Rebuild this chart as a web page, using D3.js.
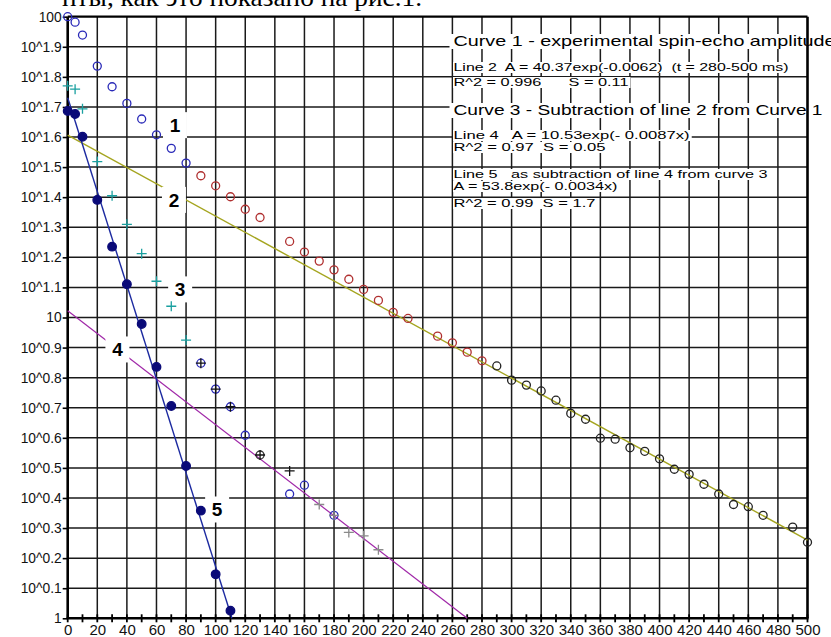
<!DOCTYPE html>
<html>
<head>
<meta charset="utf-8">
<script src="https://cdn.jsdelivr.net/npm/d3@7"></script>
<style>
body { margin: 0; background: #fff; }
svg { display: block; font-family: "Liberation Sans", Arial, sans-serif; }
</style>
</head>
<body>
<script>
// data (amplitude vs time, ms)
var curve1BlueX = [0, 5, 10, 20, 30, 40, 50, 60, 70, 80];
var curve1BlueY = [100, 95.9, 86.9, 68.5, 58.5, 51.5, 45.7, 40.5, 36.5, 32.6];
var curve1RedX = [90, 100, 110, 120, 130, 150, 160, 170, 180, 190, 200, 210, 220, 230, 250, 260, 270, 280];
var curve1RedY = [29.6, 27.4, 25.2, 22.9, 21.5, 17.9, 16.5, 15.4, 14.4, 13.4, 12.4, 11.4, 10.4, 9.93, 8.67, 8.24, 7.67, 7.18];
var curve1BlackX = [290, 300, 310, 320, 330, 340, 350, 360, 370, 380, 390, 400, 410, 420, 430, 440, 450, 460, 470, 490, 500];
var curve1BlackY = [6.90, 6.19, 5.96, 5.70, 5.31, 4.80, 4.59, 3.97, 3.94, 3.69, 3.59, 3.39, 3.13, 3.01, 2.79, 2.59, 2.39, 2.35, 2.20, 2.01, 1.79];

var curve3CyanX = [0, 5, 10, 20, 30, 40, 50, 60, 70, 80];
var curve3CyanY = [58.9, 57.4, 49.4, 33.0, 25.4, 20.4, 16.3, 13.2, 10.9, 8.41];
var curve3BlueX = [90, 100, 110, 120, 150, 160, 180];
var curve3BlueY = [7.05, 5.78, 5.05, 4.06, 2.59, 2.77, 2.20];
var curve3BlackCircleX = [130];
var curve3BlackCircleY = [3.49];
var curve3BlackPlusX = [90, 100, 110, 130, 150];
var curve3BlackPlusY = [7.05, 5.78, 5.05, 3.49, 3.09];
var curve3GrayPlusX = [170, 180, 190, 200, 210];
var curve3GrayPlusY = [2.39, 2.20, 1.93, 1.88, 1.69];

var curve5X = [0, 5, 10, 20, 30, 40, 50, 60, 70, 80, 90, 100, 110];
var curve5Y = [48.6, 47.5, 39.9, 24.6, 17.2, 12.9, 9.51, 6.85, 5.08, 3.21, 2.28, 1.40, 1.06];

// fitted lines (end points)
var line2X = [0, 500];
var line2Y = [40.37, 1.82];
var line4X = [0, 270];
var line4Y = [10.53, 1.0];
var line5X = [0, 111];
var line5Y = [53.8, 1.0];

// curve number labels
var labelText = ['1', '2', '3', '4', '5'];
var labelX = [72.5, 71.8, 76, 33.6, 101];
var labelY = [43.6, 24.6, 12.4, 7.83, 2.30];

// axes
var xTickValues = [0, 20, 40, 60, 80, 100, 120, 140, 160, 180, 200, 220, 240, 260, 280, 300, 320, 340, 360, 380, 400, 420, 440, 460, 480, 500];
var yTickExp = [2, 1.9, 1.8, 1.7, 1.6, 1.5, 1.4, 1.3, 1.2, 1.1, 1, 0.9, 0.8, 0.7, 0.6, 0.5, 0.4, 0.3, 0.2, 0.1, 0];
var yTickLabels = ['100', '10^1.9', '10^1.8', '10^1.7', '10^1.6', '10^1.5', '10^1.4', '10^1.3', '10^1.2', '10^1.1', '10',
	'10^0.9', '10^0.8', '10^0.7', '10^0.6', '10^0.5', '10^0.4', '10^0.3', '10^0.2', '10^0.1', '1'];

var legendLines = [
	'Curve 1 - experimental spin-echo amplitude',
	'Line 2  A = 40.37exp(-0.0062)  (t = 280-500 ms)',
	'R^2 = 0.996      S = 0.11',
	'Curve 3 - Subtraction of line 2 from Curve 1',
	'Line 4   A = 10.53exp(- 0.0087x)',
	'R^2 = 0.97  S = 0.05',
	'Line 5   as subtraction of line 4 from curve 3',
	'A = 53.8exp(- 0.0034x)',
	'R^2 = 0.99  S = 1.7'
];
var captionText = 'нты, как это показано на рис.1.';

function zip (xs, ys) {
	return xs.map(function (v, i) { return [v, ys[i]]; });
}

// chart
var width = 831, height = 637;
var svg = d3.select('body').append('svg')
	.attr('width', width)
	.attr('height', height);

var x = d3.scaleLinear().domain([0, 500]).range([67.7, 807.5]);
var y = d3.scaleLog().domain([1, 100]).range([618.3, 16.7]);
var yTickValues = yTickExp.map(function (e) { return Math.pow(10, e); });

// caption text cut at the top (page text above the figure)
svg.append('text')
	.attr('x', 422)
	.attr('y', 6)
	.attr('text-anchor', 'end')
	.attr('textLength', 360)
	.attr('lengthAdjust', 'spacingAndGlyphs')
	.style('font-family', '"Liberation Serif", "Times New Roman", serif')
	.style('font-size', '26px')
	.text(captionText);

// grid
var grid = svg.append('g').attr('stroke', '#1a1a1a').attr('stroke-width', 1.5);
grid.selectAll('.vg')
	.data(xTickValues.filter(function (d) { return d > 0 && d < 500; }))
	.enter().append('line')
	.attr('x1', function (d) { return x(d); })
	.attr('x2', function (d) { return x(d); })
	.attr('y1', y(100))
	.attr('y2', y(1));
grid.selectAll('.hg')
	.data(yTickValues.filter(function (d, i) { return i > 0 && i < yTickValues.length - 1; }))
	.enter().append('line')
	.attr('x1', x(0))
	.attr('x2', x(500))
	.attr('y1', function (d) { return y(d); })
	.attr('y2', function (d) { return y(d); });

// legend (text on white boxes over the grid)
var legendBase = [46, 71, 86, 115, 139, 151, 178, 190, 207];
var legendBig = [true, false, false, true, false, false, false, false, false];
var legendLen = [382, 335, 175, 369, 236, 152, 314, 164, 142];
var legend = svg.append('g');
legendLines.forEach(function (t, i) {
	var g = legend.append('g');
	var txt = g.append('text')
		.attr('x', 453.5)
		.attr('y', legendBase[i])
		.attr('textLength', legendLen[i])
		.attr('lengthAdjust', 'spacingAndGlyphs')
		.attr('xml:space', 'preserve')
		.style('white-space', 'pre')
		.style('font-size', legendBig[i] ? '14.5px' : '11.5px')
		.style('fill', '#000')
		.text(t);
	var bb = txt.node().getBBox();
	var padL = legendBig[i] ? 4 : 0.5;
	g.insert('rect', 'text')
		.attr('x', 453.5 - padL)
		.attr('y', bb.y + 1)
		.attr('width', bb.width + padL + 2)
		.attr('height', bb.height - 1)
		.attr('fill', '#fff');
});

// frame
svg.append('line')
	.attr('x1', x(0)).attr('x2', x(500))
	.attr('y1', y(100)).attr('y2', y(100))
	.attr('stroke', '#000').attr('stroke-width', 2.2);
svg.append('line')
	.attr('x1', x(500)).attr('x2', x(500))
	.attr('y1', y(100)).attr('y2', y(1))
	.attr('stroke', '#000').attr('stroke-width', 2.6);

// axes
var yAxis = d3.axisLeft(y)
	.tickValues(yTickValues)
	.tickFormat(function (d, i) { return yTickLabels[i]; })
	.tickSize(5)
	.tickPadding(1);
var yg = svg.append('g')
	.attr('transform', 'translate(' + x(0) + ',0)')
	.call(yAxis);
yg.select('.domain').remove();
yg.selectAll('line').attr('stroke', '#000').attr('stroke-width', 1.6);
yg.selectAll('text').style('font-size', '13.8px').style('font-family', '"Liberation Sans", Arial, sans-serif').attr('fill', '#111');

var xAxis = d3.axisBottom(x)
	.tickValues(xTickValues)
	.tickSize(0)
	.tickPadding(6);
var xg = svg.append('g')
	.attr('transform', 'translate(0,' + y(1) + ')')
	.call(xAxis);
xg.select('.domain').remove();
xg.selectAll('text').style('font-size', '15px').style('font-family', '"Liberation Sans", Arial, sans-serif').attr('fill', '#111');

var minorTicks = d3.range(0, 501, 10);
svg.append('g').selectAll('line')
	.data(minorTicks)
	.enter().append('line')
	.attr('x1', function (d) { return x(d); })
	.attr('x2', function (d) { return x(d); })
	.attr('y1', y(1) - 4)
	.attr('y2', y(1) + 4)
	.attr('stroke', '#000')
	.attr('stroke-width', 1.8);

svg.append('line')
	.attr('x1', x(0)).attr('x2', x(0))
	.attr('y1', y(100)).attr('y2', y(1))
	.attr('stroke', '#000').attr('stroke-width', 2.6);
svg.append('line')
	.attr('x1', x(0) - 1).attr('x2', x(500) + 1)
	.attr('y1', y(1)).attr('y2', y(1))
	.attr('stroke', '#000').attr('stroke-width', 2.6);

// fitted lines
var line = d3.line()
	.x(function (d) { return x(d[0]); })
	.y(function (d) { return y(d[1]); });
svg.append('path').datum(zip(line2X, line2Y))
	.attr('d', line).attr('fill', 'none').attr('stroke', '#a5a520').attr('stroke-width', 1.4);
svg.append('path').datum(zip(line4X, line4Y))
	.attr('d', line).attr('fill', 'none').attr('stroke', '#a028a8').attr('stroke-width', 1.2);
svg.append('path').datum(zip(line5X, line5Y))
	.attr('d', line).attr('fill', 'none').attr('stroke', '#1c2aa0').attr('stroke-width', 1.4);

// label boxes
var labels = zip(labelX, labelY);
svg.append('g').selectAll('rect')
	.data(labels)
	.enter().append('rect')
	.attr('x', function (d) { return x(d[0]) - 12; })
	.attr('y', function (d) { return y(d[1]) - 13; })
	.attr('width', 24)
	.attr('height', 26)
	.attr('fill', '#fff');

// markers
function circles (data, color, filled, r) {
	svg.append('g').selectAll('circle')
		.data(data)
		.enter().append('circle')
		.attr('cx', function (d) { return x(d[0]); })
		.attr('cy', function (d) { return y(d[1]); })
		.attr('r', r)
		.attr('fill', filled ? color : 'none')
		.attr('stroke', color)
		.attr('stroke-width', 1.3);
}
function pluses (data, color, s) {
	svg.append('g').selectAll('path')
		.data(data)
		.enter().append('path')
		.attr('d', function (d) {
			var px = x(d[0]), py = y(d[1]);
			return 'M' + (px - s) + ',' + py + 'H' + (px + s) + 'M' + px + ',' + (py - s) + 'V' + (py + s);
		})
		.attr('stroke', color)
		.attr('stroke-width', 1.3)
		.attr('fill', 'none');
}

circles(zip(curve1BlueX, curve1BlueY), '#2a2ab8', false, 4);
circles(zip(curve1RedX, curve1RedY), '#b03030', false, 4);
circles(zip(curve1BlackX, curve1BlackY), '#222', false, 4);
pluses(zip(curve3CyanX, curve3CyanY), '#1aa0a0', 5);
circles(zip(curve3BlueX, curve3BlueY), '#2a2ab8', false, 4);
circles(zip(curve3BlackCircleX, curve3BlackCircleY), '#333', false, 4);
pluses(zip(curve3BlackPlusX, curve3BlackPlusY), '#111', 5);
pluses(zip(curve3GrayPlusX, curve3GrayPlusY), '#8a8a8a', 5);
circles(zip(curve5X, curve5Y), '#0a0a78', true, 4.3);

// curve numbers
svg.append('g').selectAll('text')
	.data(labels)
	.enter().append('text')
	.attr('x', function (d) { return x(d[0]); })
	.attr('y', function (d) { return y(d[1]) + 7; })
	.attr('text-anchor', 'middle')
	.style('font-size', '19px')
	.style('font-weight', 'bold')
	.text(function (d, i) { return labelText[i]; });
</script>
</body>
</html>
